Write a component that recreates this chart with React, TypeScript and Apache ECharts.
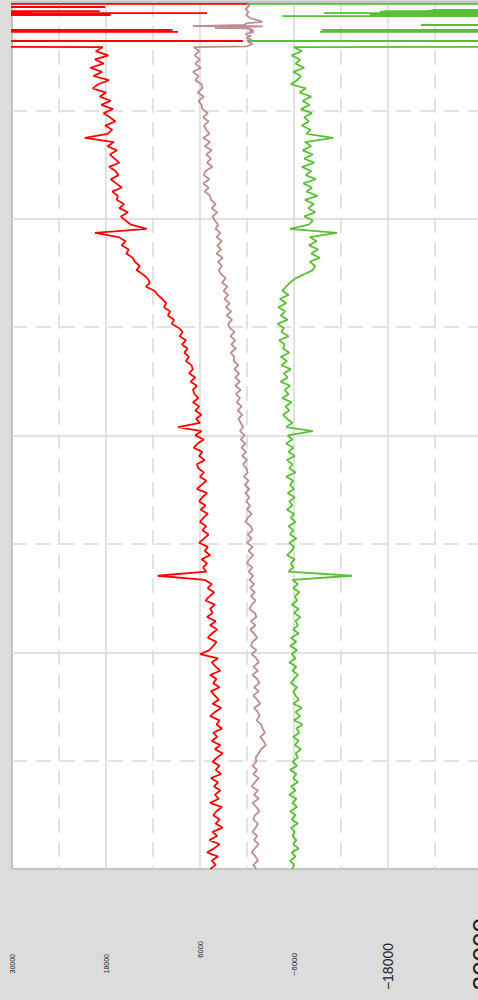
import React, { useEffect, useRef } from "react";
import * as echarts from "echarts";

// ---- value-axis tick labels (horizontal axis, inverse: 30000 on the left) ----
const X_TICK_VALUES = [30000, 18000, 6000, -6000, -18000, -30000];
const X_TICK_LABELS = ["30000", "18000", "6000", "\u22126000", "\u221218000", "\u221230000"];

// ---- time axis (vertical, hidden labels) ----
const TIME_MIN = 0;
const TIME_MAX = 4000;
const BODY_START = 208;
const BODY_END = 4000;

// ---- start of the record: [value, time] pairs (spikes) ----
const redHead: number[][] = [
  [0, 9], [60000, 9], [60000, 23], [18100, 23], [60000, 23],
  [60000, 42], [18800, 42], [60000, 42], [60000, 46], [27500, 46], [60000, 47], [28000, 49],
  [60000, 51], [5100, 51], [60000, 51], [60000, 55], [19000, 55], [60000, 55],
  [60000, 60], [17400, 60], [60000, 60], [60000, 129], [9500, 129], [10500, 131], [60000, 132],
  [60000, 138], [8800, 138], [60000, 138], [60000, 180], [500, 180], [60000, 180], [60000, 205],
];
const brownHead: number[][] = [
  [0, 0], [-300, 18], [200, 32], [-200, 46], [100, 60], [-400, 74], [-2000, 92], [0, 97],
  [300, 106], [6900, 111], [-2000, 112], [0, 115], [4100, 120], [0, 122], [-800, 129],
  [-300, 134], [-900, 138], [200, 148], [-500, 157], [100, 166], [-600, 175], [-200, 185],
  [-700, 194], [0, 205],
];
const greenHead: number[][] = [
  [0, 9], [-60000, 9], [-60000, 37], [-23700, 37], [-60000, 38], [-23000, 40], [-60000, 41],
  [-60000, 42], [-17600, 42], [-60000, 43], [-17000, 45], [-60000, 46],
  [-60000, 51], [-9800, 51], [-60000, 51], [-60000, 60], [-15700, 60], [-60000, 61],
  [-60000, 65], [-4500, 65], [-60000, 65], [-60000, 106], [-22200, 106], [-60000, 106],
  [-60000, 129], [-9500, 129], [-11000, 131], [-60000, 132], [-60000, 138], [-9300, 138],
  [-60000, 138], [-60000, 180], [0, 180], [-60000, 180], [-60000, 205],
];

// ---- body of the record: evenly sampled values ----
const redBody = [
  18400, 19300, 17700, 19400, 18300, 20000, 18500, 19600, 17600, 19000,
  19700, 18000, 18800, 17400, 18600,
  17100, 18300, 17500, 16800, 18100, 17200, 17800,
  20700,
  17000, 17800, 16600, 17500, 16900, 16300, 17600, 16800,
  16400, 17400, 16700, 16000, 17200, 16500,
  16600, 15700, 16300, 15200, 16100, 15500, 14800,
  12800, 19400,
  16400, 15500, 16000, 15100,
  15400, 14600, 14300, 13700, 14100,
  13300, 12700, 12400, 12900, 11800,
  11400, 10800, 10300, 10600, 9800, 10100, 9300, 9600,
  8700, 8200, 8600, 7800, 8300, 7600, 8000, 7400,
  7800, 7100, 6900, 7400, 6600, 7200, 6400, 6900, 6700, 6200,
  6900, 6100, 6600, 5800, 6500, 6000,
  8800,
  5800, 6600, 5500, 6300, 6800, 5700, 6100, 5400, 6400,
  6200, 5500, 6000, 5200, 5800, 6400, 5100, 5700, 6100, 5300, 5900, 5000, 5600,
  6000, 5200, 5700, 4900, 5500, 6100, 5000, 5400, 4700, 5800, 5100, 5600, 5200,
  11400,
  5400, 4500, 5000, 4200, 4800, 5300, 4100, 4700, 4400, 5100,
  4000, 4700, 3800, 4500, 5000, 3900, 4300, 4800,
  6000,
  3700, 4500, 4000, 3400, 4700, 3900, 4300, 3500, 4600, 4100,
  3600, 4400, 3300, 4100, 4700, 3500, 3900, 3200, 4300, 3800,
  4500, 3400, 4100, 3100, 3800, 4400, 3500, 4000, 3300, 4600, 3700, 4200,
  3400, 4100, 3600, 4700, 3200, 3900, 4300, 3500, 4000, 3100,
  4400, 3800, 4800, 3500, 4200, 5100, 3700, 4500, 4000, 4700,
];
const brownBody = [
  6800, 6100, 6700, 6000, 6600, 5900, 6900, 6200, 6600, 5800,
  5700, 6300, 5500, 6200, 5800,
  5700, 5000, 5600, 4900, 5500, 5200, 4800, 5600,
  4700, 5400, 4500, 5200, 4600, 5100, 4400, 5300,
  5500, 4800, 5600, 4900, 5400, 4700,
  4600, 4000, 4500, 3800, 4400, 4100, 3700,
  4000, 3400, 3900, 3200, 3800, 3300, 3900, 3100, 3700, 3200, 3600,
  3300, 2700, 3200, 2500, 3000, 2400, 2900, 2200, 2700, 2000, 2600, 1900, 2400,
  2200, 1600, 2100, 1500, 2000, 1400, 2100, 1600,
  1700, 1100, 1600, 1000, 1500, 900, 1500, 800, 1400, 900, 1300, 700, 1200, 600, 1100, 800, 500,
  900, 300, 800, 200, 700, 100, 600, 0, 500, 100, -100, 400, -200, 300, -300,
  200, -300, 100, -400, 0, -600, -100, 200, -500, -700, -100, -600, 0, -700, -200, -800, -300, 0, -700, -200,
  -800, -300, -900, -400, -1000, -500, -1100, -600, -300, -1000, -1200, -500, -1100, -400, -900, -1300, -700, -500, -1200, -600,
  -1200, -1500, -800, -1400, -700, -1300, -1600, -900, -1500, -800, -1300, -1700, -900, -1400, -1600, -1200, -1800, -2000, -2300, -1700,
  -2100, -2400, -1800, -1500, -1100,
  -1200, -700, -1300, -800, -1500, -1000, -600, -1400, -900, -1500,
  -700, -1200, -1600, -1000, -800, -1400, -1100, -700, -1300, -900,
  -1500, -1000, -600, -1100, -1400, -800, -1200,
];
const greenBody = [
  -6000, -7000, -5700, -6800, -6200, -7300, -5900, -6900, -6400, -5600,
  -7500, -6700, -8200, -7100, -8000, -6900, -8300, -7300, -7900, -7000, -8100, -7600,
  -11000,
  -7400, -8200, -7100, -8400, -7300, -8600, -7000, -8200, -7500, -8800, -7200, -8300, -7600, -9000,
  -7400, -8500, -7800, -8700, -7300, -8400, -7900,
  -5500, -11500,
  -8000, -8900, -7900, -9100, -8200, -9300, -8000, -8700, -8400,
  -7300, -6200, -5500, -5000,
  -4500, -5300, -4200, -5000, -4000, -4900, -4300, -5200, -3900, -4700, -4400, -5300, -4100, -4800, -4600, -5400, -4300,
  -5100, -4400, -5600, -4700, -5200, -4300, -5500, -4800, -5300, -4500, -5700, -4900, -5400, -4600, -5100, -5800, -5000,
  -8400,
  -5200, -5800, -5000, -5900, -5300, -6100, -5100, -5800, -5400, -6200, -5000, -5900, -5500, -6000, -5200, -6100, -5400,
  -5800, -5100, -6000, -5600, -6200, -5300, -5900, -5500, -6300, -5400, -6000, -5700, -5100, -6100, -5600, -5900, -5300,
  -13400,
  -5800, -6500, -5900, -6700, -6100, -6400, -5700, -6600, -6000, -6800, -6200, -6500, -5900, -6600, -5600, -6300, -5500, -6400,
  -5700, -6200, -5400, -6300, -5800, -6500, -6000, -5600, -6400, -5900, -6200,
  -6600, -5900, -7000, -6200, -6800, -6000, -7100, -6300, -6700, -5900, -6600, -6100, -6900, -6200, -6500,
  -5800, -6400, -5500, -6300, -5900, -6500, -5600, -6200, -5400, -6300, -5800, -6400, -5500, -6200,
  -5700, -6500, -5600, -6100, -5800, -6300, -5900, -6600, -5700, -6200, -5500, -6000, -5800,
];

const FONT = "'Liberation Sans', Arial, sans-serif";
// per-label look of the tick texts
const LABEL_SIZES = [7, 7, 7.5, 8, 14, 26];
const LABEL_SHIFT = [36, 36, 23, 35, 25, 0];

function build(head: number[][], body: number[]) {
  const n = body.length;
  const step = (BODY_END - BODY_START) / (n - 1);
  return head.concat(body.map((v, i) => [v, BODY_START + i * step]));
}

export default function App() {
  const ref = useRef<HTMLDivElement>(null);
  useEffect(() => {
    if (!ref.current) return;
    const chart = echarts.init(ref.current, null, { renderer: "svg" });
    const rich: Record<string, any> = {};
    X_TICK_LABELS.forEach((_, i) => {
      rich["t" + i] = { fontSize: LABEL_SIZES[i], fontFamily: FONT, color: "#222" };
      rich["p" + i] = { width: LABEL_SHIFT[i], fontSize: LABEL_SIZES[i] };
    });
    const grid = "#d9d9d9";
    chart.setOption({
      animation: false,
      backgroundColor: "#dcdcdc",
      grid: {
        left: 12,
        top: 2,
        width: 470,
        height: 867,
        outerBoundsMode: "none",
        containLabel: false,
        show: true,
        backgroundColor: "#ffffff",
        borderColor: "#222",
        borderWidth: 1,
      },
      xAxis: {
        type: "value",
        inverse: true,
        min: -30000,
        max: 30000,
        interval: 12000,
        axisLine: { show: false },
        axisTick: { show: false },
        splitLine: { show: true, lineStyle: { color: grid, width: 1.5 } },
        minorTick: { show: false, splitNumber: 2 },
        minorSplitLine: { show: true, lineStyle: { color: grid, width: 1.5, type: [15, 9] } },
        axisLabel: {
          rotate: 90,
          margin: 49,
          fontFamily: FONT,
          color: "#222",
          formatter: (v: number) => {
            const i = X_TICK_VALUES.indexOf(Math.round(v));
            if (i < 0) return "";
            return `{t${i}|${X_TICK_LABELS[i]}}{p${i}|}`;
          },
          rich,
        },
      },
      yAxis: {
        type: "value",
        inverse: true,
        min: TIME_MIN,
        max: TIME_MAX,
        interval: 1000,
        axisLine: { show: false },
        axisTick: { show: false },
        axisLabel: { show: false },
        splitLine: { show: true, lineStyle: { color: grid, width: 1.5 } },
        minorTick: { show: false, splitNumber: 2 },
        minorSplitLine: { show: true, lineStyle: { color: grid, width: 1.5, type: [15, 9] } },
      },
      series: [
        {
          type: "line",
          data: build(redHead, redBody),
          showSymbol: false,
          symbol: "none",
          lineStyle: { color: "#ff0000", width: 1.8 },
          clip: true,
        },
        {
          type: "line",
          data: build(brownHead, brownBody),
          showSymbol: false,
          symbol: "none",
          lineStyle: { color: "#bc8f8f", width: 1.8 },
          clip: true,
        },
        {
          type: "line",
          data: build(greenHead, greenBody),
          showSymbol: false,
          symbol: "none",
          lineStyle: { color: "#5abf35", width: 1.8 },
          clip: true,
        },
      ],
    });
    return () => chart.dispose();
  }, []);
  return (
    <div style={{ position: "fixed", left: 0, top: 0, width: 478, height: 1000, overflow: "hidden" }}>
      <div ref={ref} style={{ width: 530, height: 1000 }} />
    </div>
  );
}
